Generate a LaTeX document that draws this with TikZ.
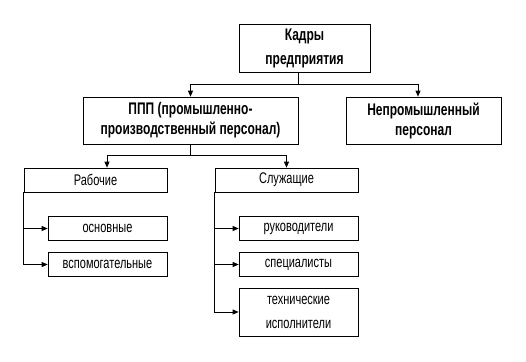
\documentclass[tikz,border=0pt]{standalone}
\usepackage{graphicx}
\usepackage{fontspec}
\setmainfont{Liberation Sans}
\usetikzlibrary{arrows.meta,positioning,calc}
\newcommand{\stretchtext}[1]{\scalebox{1}[1.4]{#1}}

\begin{document}
\begin{tikzpicture}[
    x=1pt, y=-1pt,
    line width=0.7pt,
    unitbox/.style={rectangle, draw, align=center, inner sep=0pt, font=\fontsize{11}{24}\selectfont},
    headbox/.style={unitbox, font=\fontsize{12}{20}\selectfont\bfseries},
    arr/.style={-{Triangle[length=6pt,width=5pt]}}
]
  \useasboundingbox (0,0) rectangle (526,361);

  % top level
  \node[headbox, minimum width=131pt, minimum height=48pt, font=\fontsize{12}{24}\selectfont\bfseries] (kadry) at (304.5,48) {\stretchtext{Кадры}\\\stretchtext{предприятия}};
  \node[headbox, minimum width=215pt, minimum height=47pt] (ppp) at (190.5,120.5) {\stretchtext{ППП (промышленно-}\\\stretchtext{производственный персонал)}};
  \node[headbox, minimum width=155pt, minimum height=47pt] (nonind) at (423.5,120.5) {\stretchtext{Непромышленный}\\\stretchtext{персонал}};

  % second level
  \node[unitbox, minimum width=143pt, minimum height=24pt] (rab) at (95.5,180) {\stretchtext{Рабочие}};
  \node[unitbox, minimum width=143pt, minimum height=24pt] (sluzh) at (286.5,180) {\stretchtext{Служащие}};

  % workers
  \node[unitbox, minimum width=119pt, minimum height=23.6pt] (osn) at (107.5,228.5) {\stretchtext{основные}};
  \node[unitbox, minimum width=119pt, minimum height=23.6pt] (vsp) at (107.5,264.5) {\stretchtext{вспомогательные}};

  % employees
  \node[unitbox, minimum width=119pt, minimum height=23.6pt] (ruk) at (298.5,228.5) {\stretchtext{руководители}};
  \node[unitbox, minimum width=119pt, minimum height=23.6pt] (spec) at (298.5,264.5) {\stretchtext{специалисты}};
  \node[unitbox, minimum width=119pt, minimum height=47.7pt] (tekh) at (298.5,312) {\stretchtext{технические}\\\stretchtext{исполнители}};

  % connectors
  \coordinate (split1) at (298,84);
  \draw (kadry.south -| split1) -- (split1);
  \draw[arr] (split1) -| (ppp.north);
  \draw[arr] (split1) -| ([xshift=-5.5pt]nonind.north);

  \coordinate (split2) at ($(ppp.south)+(0,11)$);
  \draw (ppp.south) -- (split2);
  \draw[arr] (split2) -| ([xshift=11.5pt]rab.north);
  \draw[arr] (split2) -| (sluzh.north);

  \draw[arr] (rab.south west) |- (osn.west);
  \draw[arr] (rab.south west) |- (vsp.west);

  \draw[arr] (sluzh.south west) |- (ruk.west);
  \draw[arr] (sluzh.south west) |- (spec.west);
  \draw[arr] (sluzh.south west) |- (tekh.west);
\end{tikzpicture}
\end{document}
